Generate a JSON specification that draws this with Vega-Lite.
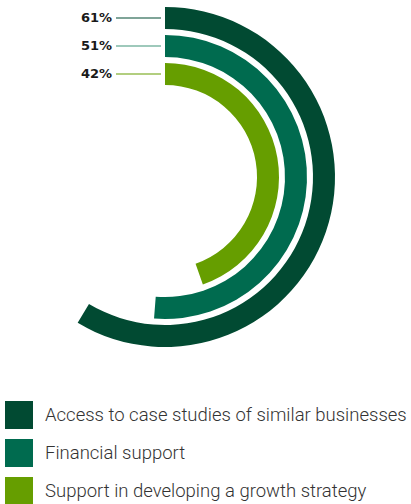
{
  "$schema": "https://vega.github.io/schema/vega-lite/v6.json",
  "width": 330,
  "height": 354,
  "autosize": {"type": "none"},
  "padding": {"left": 0, "top": 0, "right": 81, "bottom": 150},
  "background": "#ffffff",
  "config": {"view": {"stroke": null}},
  "data": {
    "values": [
      {"category": "Access to case studies of similar businesses", "value": 0.61},
      {"category": "Financial support", "value": 0.51},
      {"category": "Support in developing a growth strategy", "value": 0.42}
    ]
  },
  "layer": [
    {
      "mark": {"type": "arc", "radius2Offset": -22},
      "encoding": {
        "theta": {"field": "value", "type": "quantitative", "stack": null, "scale": {"zero": false, "domain": [0.42, 0.61], "range": [2.803, 3.681]}},
        "theta2": {"value": 0},
        "radius": {"field": "category", "type": "nominal", "scale": {"type": "point", "padding": 0, "domain": ["Support in developing a growth strategy", "Financial support", "Access to case studies of similar businesses"], "range": [114, 170]}},
        "radius2": {"field": "category"},
        "color": {
          "field": "category",
          "type": "nominal",
          "sort": null,
          "scale": {"domain": ["Access to case studies of similar businesses", "Financial support", "Support in developing a growth strategy"], "range": ["#014a32", "#006b4f", "#669e00"]},
          "legend": {
            "orient": "none", "legendX": 5, "legendY": 401, "title": null,
            "symbolType": "square", "symbolSize": 784, "symbolStrokeWidth": 0, "symbolOpacity": 1,
            "labelFont": "Roboto", "labelFontWeight": 300, "labelFontSize": 18.5, "labelColor": "#333333",
            "labelOffset": 12, "rowPadding": 10, "labelLimit": 400, "padding": 0
          }
        }
      }
    },
    {
      "mark": {"type": "text", "radiusOffset": -11, "dx": -53, "align": "right", "baseline": "middle", "font": "DejaVu Sans", "fontWeight": "bold", "fontSize": 13, "color": "#1a1a1a"},
      "encoding": {
        "theta": {"value": 0},
        "radius": {"field": "category", "type": "nominal"},
        "text": {"field": "value", "type": "quantitative", "format": ".0%"}
      }
    },
    {
      "mark": {"type": "rule", "strokeWidth": 1.2},
      "encoding": {
        "y": {"field": "category", "type": "nominal", "axis": null, "scale": {"type": "point", "padding": 0, "domain": ["Access to case studies of similar businesses", "Financial support", "Support in developing a growth strategy"], "range": [18, 74]}},
        "x": {"datum": 0, "type": "quantitative", "axis": null, "scale": {"domain": [0, 1], "range": [116, 161]}},
        "x2": {"datum": 1},
        "stroke": {"field": "category", "type": "nominal", "legend": null, "scale": {"domain": ["Access to case studies of similar businesses", "Financial support", "Support in developing a growth strategy"], "range": ["#014a32", "#3f9479", "#669e00"]}}
      }
    }
  ]
}
